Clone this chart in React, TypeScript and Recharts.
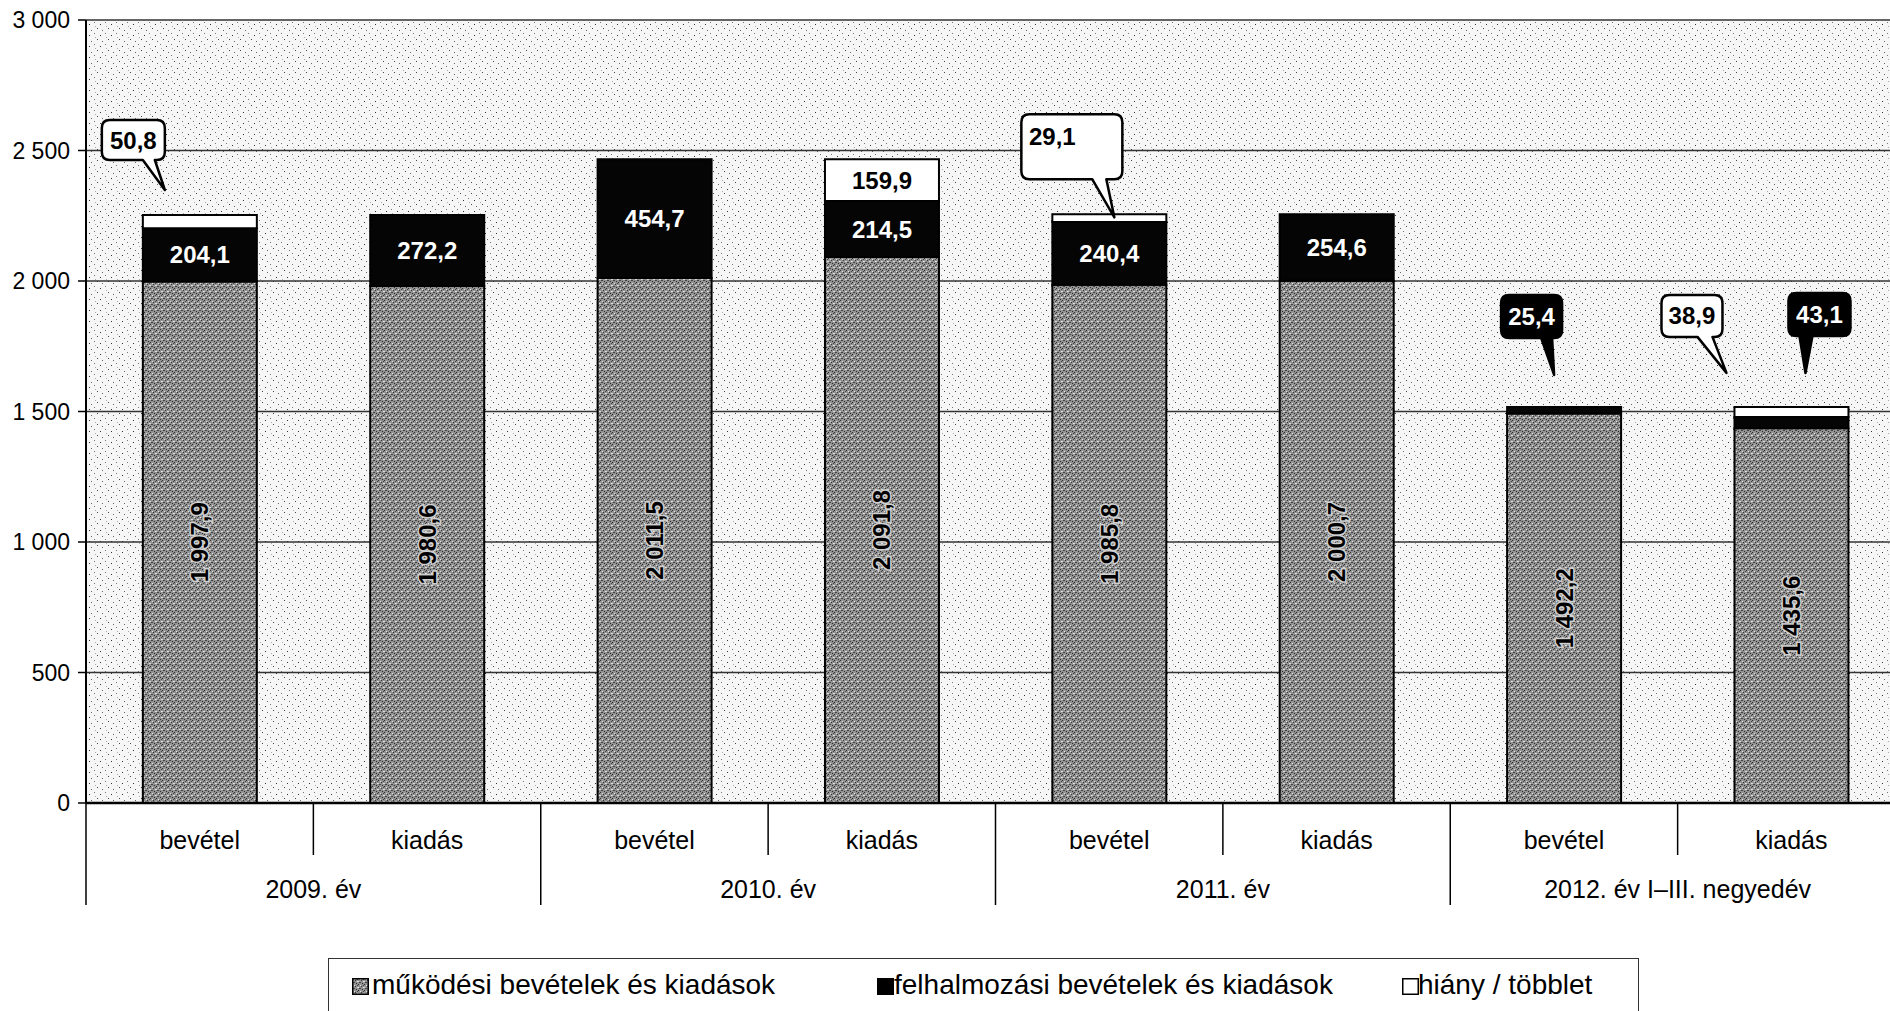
import React from 'react';
import { BarChart, Bar, XAxis, YAxis, CartesianGrid, LabelList } from 'recharts';

// ---------- data ----------
const subCategories = ['bevétel', 'kiadás', 'bevétel', 'kiadás', 'bevétel', 'kiadás', 'bevétel', 'kiadás'];
const groupLabels = ['2009. év', '2010. év', '2011. év', '2012. év I–III. negyedév'];
const mukodesi = [1997.9, 1980.6, 2011.5, 2091.8, 1985.8, 2000.7, 1492.2, 1435.6];
const felhalmozasi = [204.1, 272.2, 454.7, 214.5, 240.4, 254.6, 25.4, 43.1];
const hiany: (number | null)[] = [50.8, null, null, 159.9, 29.1, null, null, 38.9];
const yTicks = [0, 500, 1000, 1500, 2000, 2500, 3000];
const seriesNames = ['működési bevételek és kiadások', 'felhalmozási bevételek és kiadások', 'hiány / többlet'];

const data = subCategories.map((s, i) => ({
  idx: i,
  sub: s,
  mukodesi: mukodesi[i],
  felhalmozasi: felhalmozasi[i],
  hiany: hiany[i],
}));

const seriesValues: Record<string, (number | null)[]> = { mukodesi, felhalmozasi, hiany };

// ---------- layout ----------
const FONT = "'Liberation Sans', Arial, Helvetica, sans-serif";
const CHART_W = 1920;
const CHART_H = 1011;
const M_TOP = 20;
const M_RIGHT = 15;
const Y_W = 86;
const X_H = 102;
const M_BOTTOM = 106;
const PLOT_W = CHART_W - Y_W - M_RIGHT;
const BAND = PLOT_W / subCategories.length;

// callout bubbles, relative to bar centre x and segment top y
type CalloutCfg = {
  left: number; top: number; w: number; h: number;
  baseL: number; baseR: number; tipX: number; tipY: number;
  dark: boolean; textX?: number; textY?: number;
};
const calloutLayout: Record<string, CalloutCfg> = {
  'hiany-0': { left: -98, top: -95, w: 63, h: 40, baseL: -57, baseR: -45, tipX: -35, tipY: -25, dark: false },
  'hiany-4': { left: -88, top: -100, w: 101, h: 65, baseL: -17, baseR: -3, tipX: 5, tipY: 3, dark: false, textX: 31, textY: 22 },
  'hiany-7': { left: -130, top: -112, w: 61, h: 42, baseL: -94, baseR: -79, tipX: -65, tipY: -34, dark: false },
  'felhalmozasi-6': { left: -63, top: -112, w: 61, h: 43, baseL: -23, baseR: -12, tipX: -10, tipY: -32, dark: true },
  'felhalmozasi-7': { left: -3, top: -124, w: 62, h: 43, baseL: 8, baseR: 21, tipX: 14, tipY: -44, dark: true },
};

const fmtNum = (v: number) => {
  const [i, d] = v.toFixed(1).split('.');
  return i.replace(/\B(?=(\d{3})+(?!\d))/g, ' ') + ',' + d;
};
const fmtTick = (v: number) => String(v).replace(/\B(?=(\d{3})+(?!\d))/g, ' ');

const Callout = ({ cx, cy, cfg, text }: { cx: number; cy: number; cfg: CalloutCfg; text: string }) => {
  const r = 8;
  const left = cx + cfg.left;
  const top = cy + cfg.top;
  const right = left + cfg.w;
  const bottom = top + cfg.h;
  const bl = cx + cfg.baseL;
  const br = cx + cfg.baseR;
  const tx = cx + cfg.tipX;
  const ty = cy + cfg.tipY;
  const d = `M${left + r},${top} H${right - r} Q${right},${top} ${right},${top + r} V${bottom - r} Q${right},${bottom} ${right - r},${bottom} H${br} L${tx},${ty} L${bl},${bottom} H${left + r} Q${left},${bottom} ${left},${bottom - r} V${top + r} Q${left},${top} ${left + r},${top} Z`;
  const textX = cfg.textX != null ? left + cfg.textX : left + cfg.w / 2;
  const textY = cfg.textY != null ? top + cfg.textY : top + cfg.h / 2;
  return (
    <g>
      <path d={d} fill={cfg.dark ? '#000' : '#fff'} stroke="#000" strokeWidth={2.5} strokeLinejoin="round" />
      <text x={textX} y={textY} textAnchor="middle" dominantBaseline="central" fontFamily={FONT} fontWeight="bold" fontSize={24} fill={cfg.dark ? '#fff' : '#000'}>
        {text}
      </text>
    </g>
  );
};

const makeLabel = (series: string) => (props: any) => {
  const vb = props.viewBox || {};
  const x = Number(props.x ?? vb.x);
  const y = Number(props.y ?? vb.y);
  const w = Number(props.width ?? vb.width);
  const h = Number(props.height ?? vb.height);
  if (!isFinite(x) || !isFinite(y)) return null;
  const cx = x + w / 2;
  // category index derived from the bar's position on the band scale
  const index = Math.max(0, Math.min(subCategories.length - 1, Math.floor((cx - Y_W) / BAND)));
  const v = seriesValues[series][index];
  if (v == null || !(h > 0)) return null;
  const cfg = calloutLayout[`${series}-${index}`];
  if (cfg) return <Callout cx={cx} cy={y} cfg={cfg} text={fmtNum(v)} />;
  const cy = y + h / 2;
  if (series === 'mukodesi') {
    return (
      <text x={cx} y={cy} transform={`rotate(-90 ${cx} ${cy})`} textAnchor="middle" dominantBaseline="central" fontFamily={FONT} fontWeight="bold" fontSize={24} fill="#000" stroke="#d0d0d0" strokeWidth={3} paintOrder="stroke">
        {fmtNum(v)}
      </text>
    );
  }
  return (
    <text x={cx} y={cy} textAnchor="middle" dominantBaseline="central" fontFamily={FONT} fontWeight="bold" fontSize={24} fill={series === 'felhalmozasi' ? '#fff' : '#000'}>
      {fmtNum(v)}
    </text>
  );
};

const CategoryTick = (props: any) => {
  const { x, y, payload } = props;
  const i = Number(payload.value);
  const half = BAND / 2;
  const last = subCategories.length - 1;
  return (
    <g>
      <text x={x} y={y + 46} textAnchor="middle" fontFamily={FONT} fontSize={25} fill="#000">
        {subCategories[i]}
      </text>
      {i % 2 === 0 && (
        <g>
          <line x1={x - half} y1={y} x2={x - half} y2={y + 102} stroke="#000" strokeWidth={1.5} />
          <line x1={x + half} y1={y} x2={x + half} y2={y + 52} stroke="#000" strokeWidth={1.5} />
          <text x={x + half} y={y + 95} textAnchor="middle" fontFamily={FONT} fontSize={25} fill="#000">
            {groupLabels[i / 2]}
          </text>
        </g>
      )}
      {i === last && <line x1={x + half} y1={y} x2={x + half} y2={y + 102} stroke="#000" strokeWidth={1.5} />}
    </g>
  );
};

const Patterns = () => (
  <svg width={0} height={0} style={{ position: 'absolute' }}>
    <defs>
      <pattern id="bgStipple" width={11} height={11} patternUnits="userSpaceOnUse">
        <rect width={11} height={11} fill="#f6f6f6" />
        <rect x={1} y={2} width={1} height={1} fill="#333" />
        <rect x={6} y={0} width={1} height={1} fill="#777" />
        <rect x={9} y={6} width={1} height={1} fill="#444" />
        <rect x={3} y={8} width={1} height={1} fill="#666" />
        <rect x={7} y={4} width={1} height={1} fill="#aaa" />
      </pattern>
      <pattern id="grayTex" width={6} height={6} patternUnits="userSpaceOnUse">
        <rect width={6} height={6} fill="#929292" />
        <rect x={0} y={0} width={1} height={1} fill="#2c2c2c" />
        <rect x={3} y={2} width={1} height={1} fill="#383838" />
        <rect x={1} y={4} width={2} height={1} fill="#444" />
        <rect x={4} y={5} width={1} height={1} fill="#2c2c2c" />
        <rect x={5} y={1} width={1} height={1} fill="#444" />
        <rect x={2} y={1} width={1} height={1} fill="#e2e2e2" />
        <rect x={5} y={3} width={1} height={1} fill="#e2e2e2" />
        <rect x={0} y={3} width={1} height={1} fill="#d8d8d8" />
      </pattern>
    </defs>
  </svg>
);

const LegendBox = () => {
  const items = [
    { x: 23, fill: 'url(#grayTex)', textX: 43 },
    { x: 548, fill: '#000', textX: 565 },
    { x: 1073, fill: '#fff', textX: 1089 },
  ];
  return (
    <div
      style={{
        position: 'absolute', left: 328, top: 958, width: 1311, height: 70,
        borderTop: '1.5px solid #333', borderLeft: '1.5px solid #333', borderRight: '1.5px solid #333',
        boxSizing: 'border-box', background: '#fff',
      }}
    >
      {items.map((it, k) => (
        <React.Fragment key={k}>
          <svg width={17} height={17} style={{ position: 'absolute', left: it.x, top: 19 }}>
            <rect x={0.75} y={0.75} width={15.5} height={15.5} fill={it.fill} stroke="#000" strokeWidth={1.5} />
          </svg>
          <span style={{ position: 'absolute', left: it.textX, top: 9, fontFamily: FONT, fontSize: 28, color: '#000', whiteSpace: 'nowrap', lineHeight: '34px' }}>
            {seriesNames[k]}
          </span>
        </React.Fragment>
      ))}
    </div>
  );
};

export default function App() {
  return (
    <div style={{ position: 'fixed', left: 0, top: 0, width: 1890, height: 1011, overflow: 'hidden', background: '#fff' }}>
      <Patterns />
      <BarChart
        width={CHART_W}
        height={CHART_H}
        data={data}
        margin={{ top: M_TOP, right: M_RIGHT, left: 0, bottom: M_BOTTOM }}
        barCategoryGap="25%"
      >
        <CartesianGrid vertical={false} stroke="#333" strokeWidth={1.5} fill="url(#bgStipple)" fillOpacity={1} />
        <XAxis
          dataKey="idx"
          type="category"
          height={X_H}
          tickLine={false}
          tickSize={0}
          tickMargin={0}
          interval={0}
          axisLine={{ stroke: '#000', strokeWidth: 2.5 }}
          tick={<CategoryTick />}
        />
        <YAxis
          width={Y_W}
          domain={[0, 3000]}
          ticks={yTicks}
          interval={0}
          tickFormatter={fmtTick}
          tickSize={8}
          tickMargin={8}
          axisLine={{ stroke: '#000', strokeWidth: 2 }}
          tickLine={{ stroke: '#000', strokeWidth: 1.5 }}
          tick={{ fill: '#000', fontSize: 23, fontFamily: FONT }}
        />
        <Bar dataKey="mukodesi" stackId="a" fill="url(#grayTex)" stroke="#000" strokeWidth={2} isAnimationActive={false}>
          <LabelList dataKey="mukodesi" content={makeLabel('mukodesi')} />
        </Bar>
        <Bar dataKey="felhalmozasi" stackId="a" fill="#050505" stroke="#000" strokeWidth={2} isAnimationActive={false}>
          <LabelList dataKey="felhalmozasi" content={makeLabel('felhalmozasi')} />
        </Bar>
        <Bar dataKey="hiany" stackId="a" fill="#fff" stroke="#000" strokeWidth={2} isAnimationActive={false}>
          <LabelList dataKey="hiany" content={makeLabel('hiany')} />
        </Bar>
      </BarChart>
      <LegendBox />
    </div>
  );
}
